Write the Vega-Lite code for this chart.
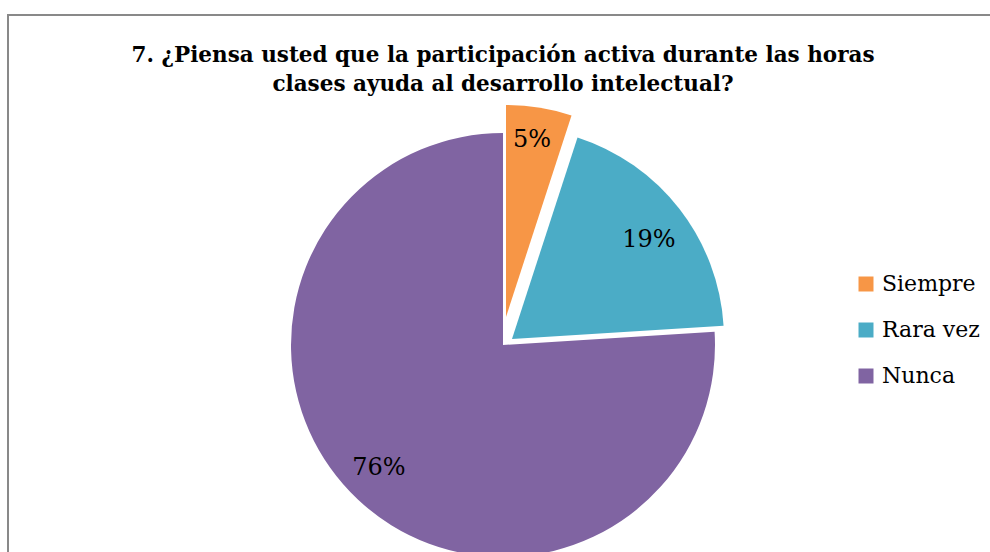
{
  "$schema": "https://vega.github.io/schema/vega-lite/v6.json",
  "autosize": {"type": "none"},
  "width": 990,
  "height": 552,
  "padding": {"left": 8, "top": 15, "right": 0, "bottom": 0},
  "background": "white",
  "view": {"stroke": "#898989", "strokeWidth": 2, "fill": "white"},
  "config": {
    "font": "DejaVu Serif"
  },
  "title": {
    "text": ["7. ¿Piensa usted que la participación activa durante las horas", "clases ayuda al desarrollo intelectual?"],
    "font": "DejaVu Serif",
    "fontSize": 21.5,
    "fontWeight": "bold",
    "color": "#000000",
    "anchor": "middle",
    "frame": "group",
    "offset": 0,
    "dy": 80,
    "lineHeight": 29
  },
  "datasets": {
    "respuestas": [
      {"categoria": "Siempre", "porcentaje": 5, "orden": 1, "etiqueta": "5%"},
      {"categoria": "Rara vez", "porcentaje": 19, "orden": 2, "etiqueta": "19%"},
      {"categoria": "Nunca", "porcentaje": 76, "orden": 3, "etiqueta": "76%"}
    ]
  },
  "data": {"name": "respuestas"},
  "transform": [
    {"stack": "porcentaje", "groupby": [], "sort": [{"field": "orden", "order": "ascending"}], "as": ["v0", "v1"]}
  ],
  "layer": [
    {
      "transform": [{"filter": "datum.categoria === 'Nunca'"}],
      "mark": {"type": "arc", "outerRadius": 212, "xOffset": 0, "yOffset": 54},
      "encoding": {
        "theta": {"field": "v0", "type": "quantitative", "scale": {"domain": [0, 100]}},
        "theta2": {"field": "v1"},
        "color": {"field": "categoria", "type": "nominal", "scale": {"domain": ["Siempre", "Rara vez", "Nunca"], "range": ["#F79646", "#4BACC6", "#8064A2"]}, "title": null}
      }
    },
    {
      "transform": [{"filter": "datum.categoria === 'Siempre'"}],
      "mark": {"type": "arc", "outerRadius": 212, "xOffset": 3, "yOffset": 26},
      "encoding": {
        "theta": {"field": "v0", "type": "quantitative", "scale": {"domain": [0, 100]}},
        "theta2": {"field": "v1"},
        "color": {"field": "categoria", "type": "nominal", "scale": {"domain": ["Siempre", "Rara vez", "Nunca"], "range": ["#F79646", "#4BACC6", "#8064A2"]}, "title": null}
      }
    },
    {
      "transform": [{"filter": "datum.categoria === 'Rara vez'"}],
      "mark": {"type": "arc", "outerRadius": 212, "xOffset": 9, "yOffset": 48},
      "encoding": {
        "theta": {"field": "v0", "type": "quantitative", "scale": {"domain": [0, 100]}},
        "theta2": {"field": "v1"},
        "color": {
          "field": "categoria", "type": "nominal",
          "scale": {"domain": ["Siempre", "Rara vez", "Nunca"], "range": ["#F79646", "#4BACC6", "#8064A2"]},
          "title": null,
          "legend": {
            "orient": "none", "legendX": 847, "legendY": 258,
            "symbolType": "square", "symbolSize": 225, "symbolStrokeWidth": 0,
            "labelFont": "DejaVu Serif", "labelFontSize": 22, "labelColor": "#000000",
            "rowPadding": 24, "labelOffset": 5, "labelLimit": 200
          }
        }
      }
    },
    {
      "transform": [{"filter": "datum.categoria === 'Nunca'"}, {"calculate": "(datum.v0 + datum.v1) / 2", "as": "medio"}],
      "mark": {"type": "text", "radius": 174, "xOffset": 0, "yOffset": 54, "dx": -5, "dy": -4, "fontSize": 24, "font": "DejaVu Serif", "color": "#000000"},
      "encoding": {
        "theta": {"field": "medio", "type": "quantitative", "scale": {"domain": [0, 100]}},
        "text": {"field": "etiqueta"}
      }
    },
    {
      "transform": [{"filter": "datum.categoria === 'Siempre'"}, {"calculate": "(datum.v0 + datum.v1) / 2", "as": "medio"}],
      "mark": {"type": "text", "radius": 179, "xOffset": 3, "yOffset": 26, "dx": -2, "fontSize": 24, "font": "DejaVu Serif", "color": "#000000"},
      "encoding": {
        "theta": {"field": "medio", "type": "quantitative", "scale": {"domain": [0, 100]}},
        "text": {"field": "etiqueta"}
      }
    },
    {
      "transform": [{"filter": "datum.categoria === 'Rara vez'"}, {"calculate": "(datum.v0 + datum.v1) / 2", "as": "medio"}],
      "mark": {"type": "text", "radius": 167, "xOffset": 9, "yOffset": 48, "dx": 5, "dy": 3, "fontSize": 24, "font": "DejaVu Serif", "color": "#000000"},
      "encoding": {
        "theta": {"field": "medio", "type": "quantitative", "scale": {"domain": [0, 100]}},
        "text": {"field": "etiqueta"}
      }
    }
  ],
  "resolve": {"scale": {"theta": "shared"}}
}
